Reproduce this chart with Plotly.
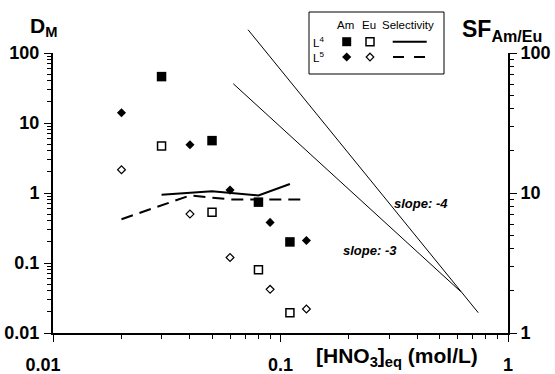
import plotly.graph_objects as go

# ---------------- data ----------------
hno3_L4 = [0.03, 0.05, 0.08, 0.11]
D_Am_L4 = [46, 5.6, 0.74, 0.20]
D_Eu_L4 = [4.7, 0.53, 0.080, 0.0195]
SF_L4 = [9.7, 10.3, 9.6, 11.6]

hno3_L5 = [0.02, 0.04, 0.06, 0.09, 0.13]
D_Am_L5 = [14, 4.9, 1.1, 0.38, 0.21]
D_Eu_L5 = [2.15, 0.50, 0.12, 0.042, 0.022]
SF_L5 = [6.5, 9.6, 9.0, 9.0, 9.0]

slope4_x = [0.072, 0.74]
slope4_y = [215, 0.0195]
slope3_x = [0.062, 0.62]
slope3_y = [36.4, 0.039]

x_tickvals = [0.01, 0.1, 1]
x_ticktext = ["0.01&nbsp;&nbsp;&nbsp;&nbsp;", "0.1", "1"]
dm_tickvals = [0.01, 0.1, 1, 10, 100]
dm_ticktext = ["0.01", "0.1", "1", "10", "100"]
sf_tickvals = [1, 10, 100]
sf_ticktext = ["1", "10", "100"]

# ---------------- layout geometry ----------------
W, H = 555, 374
ML, MR, MB, MT = 53, 47, 41, 10
PW = W - ML - MR
PH = H - MB - MT
AX_TOP = 53  # pixel row of the D=100 / SF=100 level
d = (H - MB - AX_TOP) / PH


def px(x):
    return (x - ML) / PW


def py(y):
    return (H - MB - y) / PH


FONT = "Liberation Sans, Arial, Helvetica, sans-serif"


def minor_vals(lo, hi):
    vals = []
    e = lo
    while e < hi:
        for k in range(2, 10):
            vals.append(k * 10 ** e)
        e += 1
    return vals


fig = go.Figure()

# slope guide lines (on a taller hidden subplot so they extend above the 100 line)
for xs, ys in [(slope4_x, slope4_y), (slope3_x, slope3_y)]:
    fig.add_trace(go.Scatter(x=xs, y=ys, mode="lines", xaxis="x3", yaxis="y3",
                             line=dict(color="black", width=1), showlegend=False,
                             hoverinfo="skip"))

# selectivity lines (right axis)
fig.add_trace(go.Scatter(x=hno3_L4, y=SF_L4, mode="lines", xaxis="x", yaxis="y2",
                         line=dict(color="black", width=2), showlegend=False))
fig.add_trace(go.Scatter(x=hno3_L5, y=SF_L5, mode="lines", xaxis="x", yaxis="y2",
                         line=dict(color="black", width=2, dash="12px,7px"), showlegend=False))

# distribution ratios
fig.add_trace(go.Scatter(x=hno3_L4, y=D_Am_L4, mode="markers",
                         marker=dict(symbol="square", size=9.5, color="black", line=dict(width=0)),
                         showlegend=False))
fig.add_trace(go.Scatter(x=hno3_L4, y=D_Eu_L4, mode="markers",
                         marker=dict(symbol="square", size=8, color="white",
                                     line=dict(color="black", width=1.5)),
                         showlegend=False))
fig.add_trace(go.Scatter(x=hno3_L5, y=D_Am_L5, mode="markers",
                         marker=dict(symbol="diamond", size=7, color="black", line=dict(width=0)),
                         showlegend=False))
fig.add_trace(go.Scatter(x=hno3_L5, y=D_Eu_L5, mode="markers",
                         marker=dict(symbol="diamond", size=6, color="white",
                                     line=dict(color="black", width=1.2)),
                         showlegend=False))

tickfont = dict(family=FONT, size=18, color="black", weight="bold")
common = dict(type="log", showgrid=False, zeroline=False, showline=True, linecolor="black",
              linewidth=2, ticks="outside", ticklen=7, tickwidth=1, tickcolor="black",
              tickfont=tickfont, tickmode="array", automargin=False)

fig.update_layout(
    width=W, height=H, autosize=False,
    margin=dict(l=ML, r=MR, t=MT, b=MB, pad=0, autoexpand=False),
    paper_bgcolor="white", plot_bgcolor="rgba(0,0,0,0)",
    showlegend=False,
    xaxis=dict(**common, range=[-2, 0], domain=[0, 1], anchor="y",
               tickvals=x_tickvals, ticktext=x_ticktext, ticklabelstandoff=7,
               minor=dict(ticks="outside", ticklen=4, tickwidth=1, tickcolor="black",
                          tickmode="array", tickvals=minor_vals(-2, 0))),
    yaxis=dict(**common, range=[-2, 2], domain=[0, d], anchor="x",
               tickvals=dm_tickvals, ticktext=dm_ticktext, ticklabelstandoff=1,
               minor=dict(ticks="outside", ticklen=4, tickwidth=1, tickcolor="black",
                          tickmode="array", tickvals=minor_vals(-2, 2))),
    yaxis2=dict(**common, range=[0, 2], overlaying="y", side="right", anchor="x",
                tickvals=sf_tickvals, ticktext=sf_ticktext,
                minor=dict(ticks="outside", ticklen=4, tickwidth=1, tickcolor="black",
                           tickmode="array", tickvals=minor_vals(0, 2))),
    xaxis3=dict(type="log", range=[-2, 0], domain=[0, 1], anchor="y3", visible=False),
    yaxis3=dict(type="log", range=[-2, -2 + 4 / d], domain=[0, 1], anchor="x3", visible=False),
)

ann = []


def text_at(x, y, text, font, xanchor="center"):
    ann.append(dict(x=px(x), y=py(y), xref="paper", yref="paper", showarrow=False,
                    xanchor=xanchor, yanchor="middle", text=text, font=font))


# axis titles
text_at(43, 27, "<b>D<sub>M</sub></b>", dict(family=FONT, size=21, color="black"))
text_at(460, 30, "<b>SF<sub>Am/Eu</sub></b>", dict(family=FONT, size=23, color="black"),
        xanchor="left")
text_at(396.5, 357, "<b>[HNO<sub>3</sub>]<sub>eq</sub> (mol/L)</b>",
        dict(family=FONT, size=21, color="black"))
# slope labels
text_at(420.5, 203, "<b><i>slope: -4</i></b>", dict(family=FONT, size=13, color="black"))
text_at(370, 251, "<b><i>slope: -3</i></b>", dict(family=FONT, size=13, color="black"))

# custom legend
lf = dict(family=FONT, size=11.5, color="black")
for t, xc in [("Am", 345), ("Eu", 369), ("Selectivity", 407.5)]:
    text_at(xc, 25, t, lf)
for t, yc in [("L<sup>4</sup>", 41.7), ("L<sup>5</sup>", 57)]:
    text_at(311, yc, t, lf, xanchor="left")

shapes = []
shapes.append(dict(type="rect", xref="paper", yref="paper", x0=px(309), x1=px(444),
                   y0=py(74), y1=py(12), line=dict(color="black", width=1),
                   fillcolor="rgba(0,0,0,0)"))
# squares
s = 4.5
shapes.append(dict(type="rect", xref="paper", yref="paper", x0=px(346.7 - s), x1=px(346.7 + s),
                   y0=py(41.7 + s), y1=py(41.7 - s), line=dict(width=0), fillcolor="black"))
s2 = 4
shapes.append(dict(type="rect", xref="paper", yref="paper", x0=px(370 - s2), x1=px(370 + s2),
                   y0=py(41.7 + s2), y1=py(41.7 - s2), line=dict(color="black", width=1.5),
                   fillcolor="white"))


def diamond_path(cx, cy, r):
    pts = [(cx, cy - r), (cx + r, cy), (cx, cy + r), (cx - r, cy)]
    return "M " + " L ".join(f"{px(a):.5f},{py(b):.5f}" for a, b in pts) + " Z"


shapes.append(dict(type="path", xref="paper", yref="paper", path=diamond_path(346.7, 57, 4.6),
                   line=dict(width=0), fillcolor="black"))
shapes.append(dict(type="path", xref="paper", yref="paper", path=diamond_path(370, 57, 3.8),
                   line=dict(color="black", width=1.2), fillcolor="white"))
shapes.append(dict(type="line", xref="paper", yref="paper", x0=px(392.7), x1=px(426.7),
                   y0=py(41.7), y1=py(41.7), line=dict(color="black", width=2)))
for a, b in [(393, 404), (414, 425)]:
    shapes.append(dict(type="line", xref="paper", yref="paper", x0=px(a), x1=px(b),
                       y0=py(57), y1=py(57), line=dict(color="black", width=2)))

fig.update_layout(annotations=ann, shapes=shapes)
fig.write_html("out.html", config={"displayModeBar": False},
               post_script="document.body.style.margin='0';document.body.style.padding='0';")
